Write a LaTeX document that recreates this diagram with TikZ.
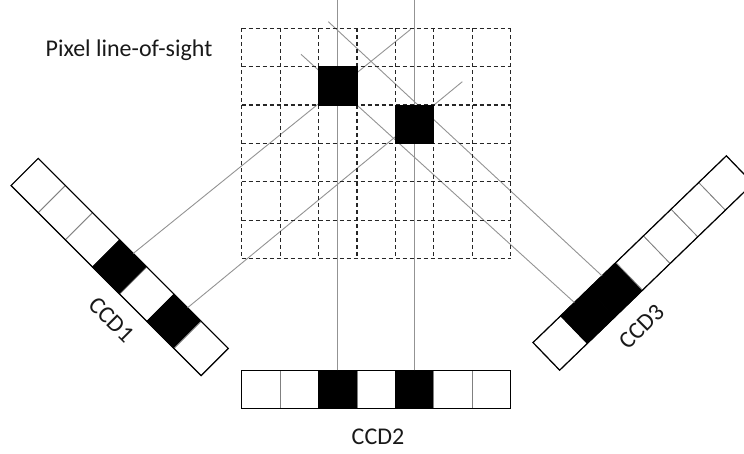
\documentclass[tikz,border=0pt]{standalone}
\usepackage{fontspec}
\setmainfont{Carlito}
\usepackage{tikz}

\begin{document}
\begin{tikzpicture}[x=1pt, y=-1pt, every node/.style={inner sep=1.5pt},
  cell/.style={draw=gray, line width=0.8pt, fill=white, minimum size=38.4pt, inner sep=0pt, outer sep=0pt},
  pix/.style={cell, fill=black, draw=black},
  rim/.style={draw=black, line width=1.2pt},
  sight/.style={draw=gray!85, line width=0.9pt},
  gridline/.style={draw=black!85, line width=1.2pt, dash pattern=on 4pt off 3pt},
  lbl/.style={font=\fontsize{24}{28}\selectfont, text=black!90}]
  \useasboundingbox (0,0) rectangle (744,454);
  \coordinate (top) at (0,0);
  \coordinate (s1a) at (410.7,29.3);
  \coordinate (s1b) at (462.3,81.7);
  \coordinate (s3a) at (328.3,21.7);
  \coordinate (s3b) at (301,54.3);
  \begin{scope}[shift={(119.7,267)}, rotate=-45, transform shape]
    \foreach \k/\s in {0/cell,1/cell,2/cell,3/pix,4/cell,5/pix,6/cell}
      \node[\s] (c1-\k) at ({(\k-3)*38.4},0) {};
    \draw[rim] (c1-0.north west) -- (c1-6.north east) -- (c1-6.south east) -- (c1-0.south west) -- cycle;
  \end{scope}
  \foreach \k/\s in {0/cell,1/cell,2/pix,3/cell,4/pix,5/cell,6/cell}
    \node[\s] (c2-\k) at ({260.9+\k*38.4},389.5) {};
  \draw[rim] (c2-0.north west) rectangle (c2-6.south east);
  \begin{scope}[shift={(643,263)}, rotate=44, transform shape]
    \foreach \k/\s in {0/cell,1/pix,2/pix,3/cell,4/cell,5/cell,6/cell}
      \node[\s] (c3-\k) at ({(\k-3)*38.4},0) {};
    \draw[rim] (c3-0.north west) -- (c3-6.north east) -- (c3-6.south east) -- (c3-0.south west) -- cycle;
  \end{scope}
  \draw[sight] (c1-3.north) -- (s1a);
  \draw[sight] (c1-5.north) -- (s1b);
  \draw[sight] (c3-2.north) -- (s3a);
  \draw[sight] (c3-1.north) -- (s3b);
  \draw[sight] (c2-2.north) -- (c2-2.north |- top);
  \draw[sight] (c2-4.north) -- (c2-4.north |- top);
  \foreach \i in {0,...,7}
    \draw[gridline] ({241.7+\i*38.4},28.3) -- ({241.7+\i*38.4},258.7);
  \foreach \j in {0,...,6}
    \draw[gridline] (241.7,{28.3+\j*38.4}) -- (510.5,{28.3+\j*38.4});
  \node[pix] (p1) at (337.7,85.9) {};
  \node[pix] (p2) at (414.5,124.3) {};
  \node[lbl] (los) at (129,50) {Pixel line-of-sight};
  \node[lbl, rotate=-45] (n1) at (111.7,320) {CCD1};
  \node[lbl] (n2) at (378,437) {CCD2};
  \node[lbl, rotate=45] (n3) at (641.7,326.7) {CCD3};
\end{tikzpicture}
\end{document}
